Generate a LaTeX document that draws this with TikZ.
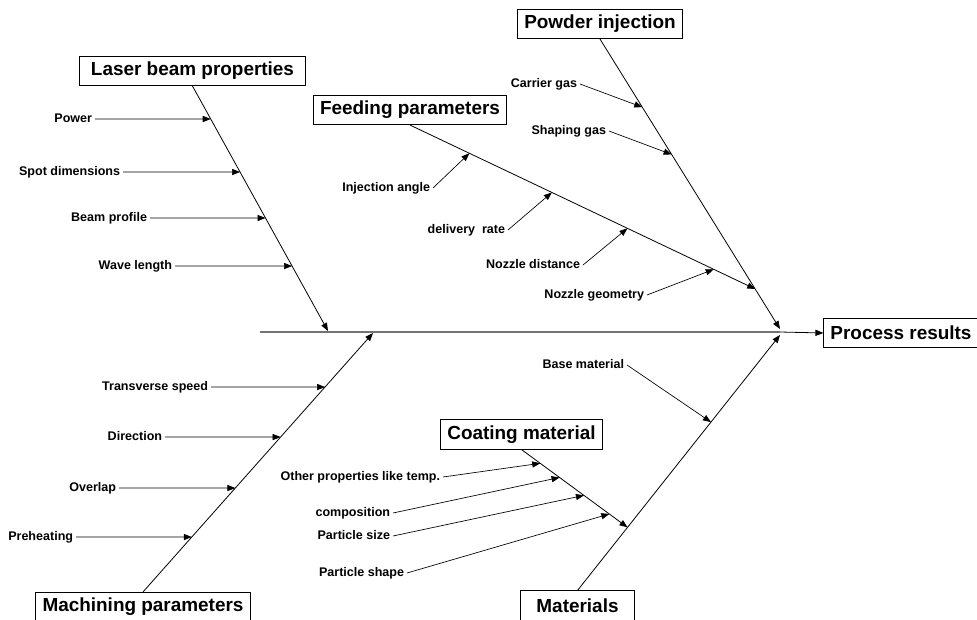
\documentclass[tikz,border=0pt]{standalone}
\usepackage{fontspec}
\setmainfont{Liberation Sans}
\usetikzlibrary{arrows.meta, calc, positioning}

\tikzset{
	cat/.style={draw, line width=0.6pt, font=\fontsize{14.2}{17}\selectfont\bfseries, inner xsep=5pt, minimum height=22pt},
	cause/.style={font=\fontsize{9.4}{11}\selectfont\bfseries, inner sep=2pt, anchor=east, text height=6.8pt, text depth=1.9pt},
	spine/.style={line width=1pt, black!55},
	bone/.style={line width=0.6pt, -{Triangle[length=6pt,width=4.6pt]}},
	twig/.style={line width=0.5pt, -{Triangle[length=6pt,width=4.6pt]}},
}

\begin{document}
\begin{tikzpicture}[x=0.75pt, y=-0.75pt]
	\useasboundingbox (0,0) rectangle (977,620);
	% categories
	\node [cat, minimum width=169pt] (laser) at (192.5,71) {Laser beam properties};
	\node [cat] (feed) at (410,110) {Feeding parameters};
	\node [cat] (powder) at (600,24) {Powder injection};
	\node [cat] (result) at (901,333) {Process results};
	\node [cat] (coat) at (521.5,434.5) {Coating material};
	\node [cat, minimum width=85pt] (mat) at (577.5,605.5) {Materials};
	\node [cat] (mach) at (143,607) {Machining parameters};
	% spine
	\coordinate (s0) at (260,332);
	\coordinate (s1) at (780,332);
	\draw [spine] (s0) -- (s1);
	\draw [bone] (s1) -- (result.west);
	% main bones
	\coordinate (lt) at (328,331);
	\coordinate (mt) at (373,333);
	\coordinate (pt) at (780,329);
	\coordinate (mtp) at (780,335);
	\coordinate (ft) at ($(powder.south)!0.862!(pt)$);
	\coordinate (ct) at ($(mat.north)!0.247!(mtp)$);
	\draw [bone] (laser.south) -- (lt);
	\draw [bone] (mach.north) -- (mt);
	\draw [bone] (powder.south) -- (pt);
	\draw [bone] (mat.north) -- (mtp);
	\draw [bone] (feed.south) -- (ft);
	\draw [bone] (coat.south) -- (ct);
	% laser beam properties
	\node [cause] (pow) at (95,119) {Power};
	\node [cause] (spot) at (123,172) {Spot dimensions};
	\node [cause] (prof) at (150,218) {Beam profile};
	\node [cause] (wave) at (175,266) {Wave length};
	\draw [twig] (pow.east) -- (intersection of laser.south--lt and pow.west--pow.east);
	\draw [twig] (spot.east) -- (intersection of laser.south--lt and spot.west--spot.east);
	\draw [twig] (prof.east) -- (intersection of laser.south--lt and prof.west--prof.east);
	\draw [twig] (wave.east) -- (intersection of laser.south--lt and wave.west--wave.east);
	% machining parameters
	\node [cause] (speed) at (211,387) {Transverse speed};
	\node [cause] (dir) at (165,437) {Direction};
	\node [cause] (lap) at (119,488) {Overlap};
	\node [cause] (heat) at (76,537) {Preheating};
	\draw [twig] (speed.east) -- (intersection of mach.north--mt and speed.west--speed.east);
	\draw [twig] (dir.east) -- (intersection of mach.north--mt and dir.west--dir.east);
	\draw [twig] (lap.east) -- (intersection of mach.north--mt and lap.west--lap.east);
	\draw [twig] (heat.east) -- (intersection of mach.north--mt and heat.west--heat.east);
	% feeding parameters
	\node [cause] (angle) at (433,188) {Injection angle};
	\node [cause] (rate) at (508,230) {delivery\ \ rate};
	\node [cause] (dist) at (583,265) {Nozzle distance};
	\node [cause] (geom) at (647,295) {Nozzle geometry};
	\draw [twig] (angle.east) -- ($(feed.south)!0.172!(ft)$);
	\draw [twig] (rate.east) -- ($(feed.south)!0.411!(ft)$);
	\draw [twig] (dist.east) -- ($(feed.south)!0.630!(ft)$);
	\draw [twig] (geom.east) -- ($(feed.south)!0.880!(ft)$);
	% powder injection
	\node [cause] (carr) at (580,84) {Carrier gas};
	\node [cause] (shap) at (609,131) {Shaping gas};
	\draw [twig] (carr.east) -- ($(powder.south)!0.235!(pt)$);
	\draw [twig] (shap.east) -- ($(powder.south)!0.398!(pt)$);
	% materials
	\node [cause] (base) at (627,365) {Base material};
	\draw [twig] (base.east) -- ($(mat.north)!0.659!(mtp)$);
	% coating material
	\node [cause] (other) at (443,477) {Other properties like temp.};
	\node [cause] (comp) at (393,513) {composition};
	\node [cause] (size) at (393,536) {Particle size};
	\node [cause] (shape) at (407,573) {Particle shape};
	\draw [twig] (other.east) -- ($(coat.south)!0.177!(ct)$);
	\draw [twig] (comp.east) -- ($(coat.south)!0.359!(ct)$);
	\draw [twig] (size.east) -- ($(coat.south)!0.589!(ct)$);
	\draw [twig] (shape.east) -- ($(coat.south)!0.828!(ct)$);
\end{tikzpicture}
\end{document}
